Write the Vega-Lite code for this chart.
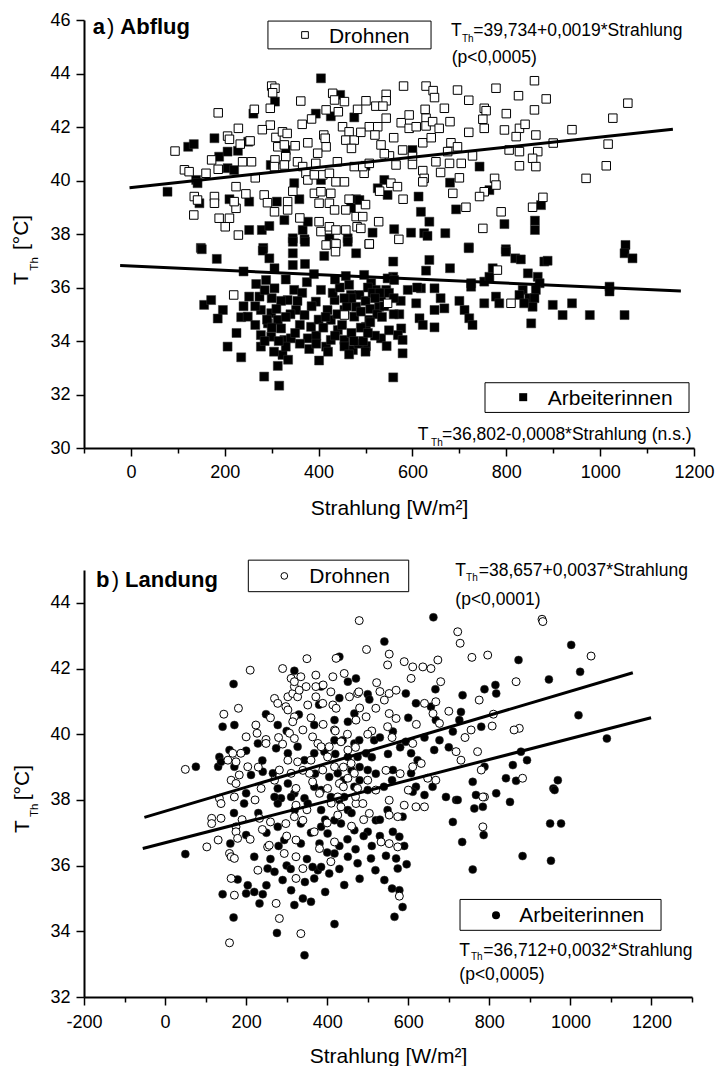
{
"$schema":"https://vega.github.io/schema/vega-lite/v6.json",
"background":"white",
"padding":{"left":11,"top":11,"right":0,"bottom":0},
"bounds":"flush",
"spacing":122,
"config":{"view":{"stroke":null},
"axis":{"grid":false,"domainColor":"black","tickColor":"black","labelColor":"black","titleColor":"black","labelFont":"Liberation Sans","titleFont":"Liberation Sans","labelFontSize":18,"titleFontSize":21,"titleFontWeight":"normal","domainWidth":2,"tickWidth":1.5,"labelFlush":false,"labelOverlap":false},
"text":{"font":"Liberation Sans","color":"black"}},
"datasets":{
"a_workers":[{"rad":405,"temp":43.82},{"rad":446,"temp":43.2},{"rad":307,"temp":42.95},{"rad":261,"temp":42.5},{"rad":394,"temp":42.5},{"rad":426,"temp":42.4},{"rad":476,"temp":42.36},{"rad":122,"temp":41.26},{"rad":134,"temp":41.36},{"rad":178,"temp":41.58},{"rad":188,"temp":40.89},{"rad":206,"temp":41.08},{"rad":228,"temp":41.11},{"rad":250,"temp":41.45},{"rad":330,"temp":41.14},{"rad":206,"temp":40.46},{"rad":220,"temp":40.39},{"rad":298,"temp":40.58},{"rad":139,"temp":40.02},{"rad":142,"temp":39.9},{"rad":78,"temp":39.58},{"rad":348,"temp":39.9},{"rad":405,"temp":40.02},{"rad":146,"temp":39.15},{"rad":210,"temp":39.3},{"rad":252,"temp":39.21},{"rad":311,"temp":39.21},{"rad":359,"temp":39.3},{"rad":327,"temp":38.52},{"rad":252,"temp":38.15},{"rad":279,"temp":38.15},{"rad":295,"temp":38.3},{"rad":345,"temp":37.84},{"rad":370,"temp":37.8},{"rad":366,"temp":38.15},{"rad":377,"temp":38.46},{"rad":423,"temp":37.84},{"rad":462,"temp":37.84},{"rad":480,"temp":39.3},{"rad":469,"temp":38.97},{"rad":149,"temp":37.48},{"rad":282,"temp":37.48},
{"rad":600,"temp":41.14},{"rad":500,"temp":40.55},{"rad":743,"temp":40.52},{"rad":540,"temp":40.02},{"rad":526,"temp":39.71},{"rad":547,"temp":39.46},{"rad":613,"temp":39.4},{"rad":680,"temp":39.92},{"rad":693,"temp":38.92},{"rad":618,"temp":38.83},{"rad":636,"temp":38.46},{"rad":796,"temp":38.37},{"rad":764,"temp":39.64},{"rad":874,"temp":39.08},{"rad":861,"temp":38.5},{"rad":861,"temp":38.15},{"rad":487,"temp":39.27},{"rad":515,"temp":38.05},{"rad":561,"temp":38.18},{"rad":597,"temp":38.05},{"rad":625,"temp":38.03},{"rad":632,"temp":37.93},{"rad":670,"temp":38.03},{"rad":720,"temp":37.5},{"rad":799,"temp":37.43},{"rad":1054,"temp":37.59},
{"rad":151,"temp":37.43},{"rad":183,"temp":37.07},{"rad":281,"temp":37.38},{"rad":295,"temp":37.09},{"rad":306,"temp":36.72},{"rad":345,"temp":37.71},{"rad":371,"temp":37.71},{"rad":345,"temp":37.28},{"rad":345,"temp":36.84},{"rad":371,"temp":36.88},{"rad":412,"temp":37.18},{"rad":462,"temp":37.71},{"rad":480,"temp":37.28},{"rad":458,"temp":36.43},{"rad":267,"temp":36.13},{"rad":288,"temp":36.28},{"rad":274,"temp":35.66},{"rad":252,"temp":35.66},{"rad":156,"temp":35.35},{"rad":171,"temp":35.53},{"rad":196,"temp":35.16},{"rad":185,"temp":34.84},{"rad":235,"temp":34.89},{"rad":249,"temp":34.91},{"rad":206,"temp":33.79},{"rad":235,"temp":33.39},{"rad":284,"temp":32.67},{"rad":313,"temp":33.07},{"rad":316,"temp":32.33},{"rad":323,"temp":33.48},{"rad":401,"temp":33.27},{"rad":306,"temp":35.97},{"rad":348,"temp":35.91},{"rad":334,"temp":35.53},{"rad":352,"temp":35.16},{"rad":277,"temp":35.16},{"rad":299,"temp":35.04},{"rad":313,"temp":34.79},{"rad":292,"temp":34.66},{"rad":320,"temp":34.47},{"rad":277,"temp":34.22},{"rad":299,"temp":34.16},{"rad":327,"temp":34.04},{"rad":341,"temp":34.1},{"rad":277,"temp":33.79},{"rad":330,"temp":33.79},{"rad":370,"temp":34.97},{"rad":384,"temp":34.53},{"rad":377,"temp":34.1},{"rad":394,"temp":35.47},{"rad":405,"temp":35.91},{"rad":419,"temp":35.16},{"rad":434,"temp":35.53},{"rad":426,"temp":34.79},{"rad":441,"temp":34.41},{"rad":455,"temp":35.16},{"rad":469,"temp":35.72},{"rad":476,"temp":34.91},{"rad":416,"temp":33.79},{"rad":426,"temp":34.04},{"rad":455,"temp":34.04},{"rad":473,"temp":33.66},
{"rad":559,"temp":36.97},{"rad":559,"temp":36.4},{"rad":636,"temp":37.03},{"rad":629,"temp":36.63},{"rad":680,"temp":36.72},{"rad":720,"temp":37.47},{"rad":799,"temp":37.34},{"rad":819,"temp":37.09},{"rad":831,"temp":37.05},{"rad":881,"temp":36.97},{"rad":888,"temp":37.0},{"rad":1052,"temp":37.28},{"rad":1069,"temp":37.09},{"rad":497,"temp":36.47},{"rad":512,"temp":36.16},{"rad":522,"temp":35.91},{"rad":533,"temp":35.66},{"rad":547,"temp":36.34},{"rad":561,"temp":36.28},{"rad":544,"temp":35.91},{"rad":529,"temp":35.28},{"rad":487,"temp":35.72},{"rad":480,"temp":35.28},{"rad":508,"temp":34.79},{"rad":501,"temp":34.53},{"rad":590,"temp":35.91},{"rad":618,"temp":35.97},{"rad":647,"temp":35.97},{"rad":608,"temp":35.41},{"rad":647,"temp":35.16},{"rad":668,"temp":35.22},{"rad":615,"temp":34.85},{"rad":622,"temp":34.6},{"rad":647,"temp":34.51},{"rad":572,"temp":35.0},{"rad":576,"temp":34.47},{"rad":569,"temp":34.22},{"rad":579,"temp":34.04},{"rad":579,"temp":33.54},{"rad":533,"temp":34.1},{"rad":545,"temp":33.81},{"rad":501,"temp":33.81},{"rad":559,"temp":32.64},{"rad":725,"temp":36.16},{"rad":725,"temp":36.03},{"rad":753,"temp":36.22},{"rad":764,"temp":36.4},{"rad":771,"temp":36.72},{"rad":711,"temp":35.16},{"rad":721,"temp":34.85},{"rad":728,"temp":34.6},{"rad":753,"temp":35.41},{"rad":778,"temp":35.66},{"rad":785,"temp":35.41},{"rad":846,"temp":36.53},{"rad":867,"temp":36.4},{"rad":871,"temp":36.16},{"rad":863,"temp":35.91},{"rad":835,"temp":35.91},{"rad":828,"temp":35.72},{"rad":849,"temp":35.6},{"rad":860,"temp":35.6},{"rad":856,"temp":35.28},{"rad":838,"temp":35.41},{"rad":853,"temp":34.66},{"rad":899,"temp":35.35},{"rad":920,"temp":34.97},{"rad":940,"temp":35.41},{"rad":978,"temp":34.97},{"rad":1020,"temp":36.03},{"rad":1020,"temp":35.85},{"rad":1052,"temp":34.97},
{"rad":440,"temp":35.0},{"rad":450,"temp":34.6},{"rad":460,"temp":35.3},{"rad":470,"temp":34.3},{"rad":490,"temp":34.5},{"rad":500,"temp":35.5},{"rad":510,"temp":35.2},{"rad":520,"temp":34.2},{"rad":430,"temp":35.8},{"rad":445,"temp":36.0},{"rad":465,"temp":36.1},{"rad":485,"temp":33.9},{"rad":495,"temp":34.0},{"rad":455,"temp":33.8},{"rad":435,"temp":34.2},{"rad":505,"temp":36.0},{"rad":515,"temp":35.8},{"rad":525,"temp":35.0},{"rad":540,"temp":35.3},{"rad":550,"temp":35.8},{"rad":560,"temp":35.0},{"rad":465,"temp":33.5},{"rad":400,"temp":34.8},{"rad":395,"temp":34.2},{"rad":385,"temp":35.3},{"rad":360,"temp":34.6},{"rad":350,"temp":34.3},{"rad":340,"temp":35.0},{"rad":365,"temp":35.8},{"rad":320,"temp":35.5},{"rad":310,"temp":35.2},{"rad":300,"temp":35.6},{"rad":290,"temp":34.8},{"rad":330,"temp":34.9},{"rad":315,"temp":34.0},{"rad":300,"temp":34.5},{"rad":360,"temp":33.9},{"rad":410,"temp":34.5},{"rad":420,"temp":33.6},{"rad":380,"temp":33.7},{"rad":470,"temp":35.6},{"rad":530,"temp":35.8},{"rad":575,"temp":35.5},{"rad":500,"temp":33.6},{"rad":510,"temp":34.7},
{"rad":265,"temp":35.3},{"rad":285,"temp":35.9},{"rad":305,"temp":33.6},{"rad":335,"temp":33.3},{"rad":355,"temp":35.5},{"rad":375,"temp":36.2},{"rad":395,"temp":33.9},{"rad":415,"temp":34.9},{"rad":435,"temp":36.3},{"rad":455,"temp":35.6},{"rad":475,"temp":34.0},{"rad":490,"temp":35.1},{"rad":505,"temp":34.3},{"rad":520,"temp":35.6},{"rad":535,"temp":34.9},{"rad":550,"temp":34.4},{"rad":285,"temp":34.0},{"rad":265,"temp":34.6},{"rad":240,"temp":35.3},{"rad":225,"temp":34.3},{"rad":390,"temp":36.5},{"rad":560,"temp":35.6},{"rad":610,"temp":36.0},{"rad":660,"temp":35.6},{"rad":700,"temp":35.5},{"rad":240,"temp":36.6},{"rad":330,"temp":36.3}],
"a_drones":[{"rad":94,"temp":41.1},{"rad":114,"temp":40.4},{"rad":124,"temp":40.33},{"rad":160,"temp":40.27},{"rad":186,"temp":42.53},{"rad":229,"temp":41.95},{"rad":206,"temp":41.66},{"rad":210,"temp":41.54},{"rad":233,"temp":41.36},{"rad":254,"temp":41.48},{"rad":172,"temp":40.77},{"rad":186,"temp":40.42},{"rad":238,"temp":40.7},{"rad":257,"temp":40.7},{"rad":263,"temp":42.66},{"rad":300,"temp":43.53},{"rad":307,"temp":43.45},{"rad":302,"temp":43.28},{"rad":297,"temp":42.7},{"rad":297,"temp":42.07},{"rad":309,"temp":41.61},{"rad":323,"temp":41.82},{"rad":333,"temp":41.76},{"rad":313,"temp":41.26},{"rad":327,"temp":41.33},{"rad":307,"temp":40.77},{"rad":306,"temp":40.52},{"rad":330,"temp":40.89},{"rad":327,"temp":40.58},{"rad":362,"temp":42.97},{"rad":430,"temp":43.26},{"rad":434,"temp":43.01},{"rad":455,"temp":42.95},{"rad":442,"temp":42.57},{"rad":416,"temp":42.64},{"rad":377,"temp":41.41},{"rad":411,"temp":41.7},{"rad":414,"temp":41.58},{"rad":416,"temp":41.26},{"rad":451,"temp":42.01},{"rad":465,"temp":41.82},{"rad":458,"temp":41.51},{"rad":476,"temp":41.51},{"rad":398,"temp":41.02},{"rad":394,"temp":40.64},{"rad":355,"temp":40.7},{"rad":366,"temp":40.52},{"rad":373,"temp":40.27},{"rad":377,"temp":40.02},{"rad":391,"temp":40.21},{"rad":409,"temp":40.21},{"rad":423,"temp":40.27},{"rad":437,"temp":39.95},{"rad":455,"temp":39.95},{"rad":476,"temp":40.52},{"rad":135,"temp":39.4},{"rad":142,"temp":39.27},{"rad":178,"temp":39.4},{"rad":178,"temp":39.15},{"rad":134,"temp":38.71},{"rad":188,"temp":38.59},{"rad":210,"temp":38.59},{"rad":201,"temp":38.27},{"rad":224,"temp":38.96},{"rad":220,"temp":39.21},{"rad":224,"temp":39.77},{"rad":229,"temp":37.96},{"rad":284,"temp":39.46},{"rad":291,"temp":39.17},{"rad":306,"temp":38.83},{"rad":334,"temp":39.21},{"rad":334,"temp":38.9},{"rad":391,"temp":39.52},{"rad":405,"temp":39.58},{"rad":426,"temp":39.52},{"rad":401,"temp":39.15},{"rad":423,"temp":39.15},{"rad":434,"temp":38.9},{"rad":458,"temp":38.9},{"rad":480,"temp":38.65},{"rad":401,"temp":38.46},{"rad":405,"temp":38.09},{"rad":423,"temp":38.27},{"rad":437,"temp":38.15},{"rad":458,"temp":38.15},{"rad":416,"temp":37.59},{"rad":434,"temp":37.65},{"rad":482,"temp":38.27},
{"rad":860,"temp":43.73},{"rad":581,"temp":43.53},{"rad":629,"temp":43.53},{"rad":644,"temp":43.36},{"rad":647,"temp":43.1},{"rad":696,"temp":43.38},{"rad":778,"temp":43.45},{"rad":826,"temp":43.17},{"rad":885,"temp":43.05},{"rad":1059,"temp":42.89},{"rad":1027,"temp":42.33},{"rad":501,"temp":42.98},{"rad":544,"temp":43.22},{"rad":544,"temp":42.98},{"rad":522,"temp":42.78},{"rad":537,"temp":42.78},{"rad":483,"temp":42.66},{"rad":627,"temp":42.66},{"rad":668,"temp":42.7},{"rad":753,"temp":42.7},{"rad":757,"temp":42.61},{"rad":860,"temp":42.64},{"rad":508,"temp":42.01},{"rad":526,"temp":42.01},{"rad":544,"temp":42.33},{"rad":576,"temp":42.16},{"rad":593,"temp":42.45},{"rad":593,"temp":41.95},{"rad":608,"temp":42.01},{"rad":629,"temp":42.33},{"rad":629,"temp":42.04},{"rad":643,"temp":42.2},{"rad":657,"temp":41.95},{"rad":750,"temp":42.29},{"rad":753,"temp":41.95},{"rad":796,"temp":41.89},{"rad":828,"temp":41.95},{"rad":821,"temp":41.64},{"rad":863,"temp":41.7},{"rad":1017,"temp":41.36},{"rad":1013,"temp":40.55},{"rad":970,"temp":40.08},{"rad":533,"temp":41.33},{"rad":551,"temp":40.92},{"rad":565,"temp":40.58},{"rad":579,"temp":41.14},{"rad":622,"temp":41.41},{"rad":682,"temp":41.41},{"rad":675,"temp":41.08},{"rad":696,"temp":41.26},{"rad":728,"temp":40.92},{"rad":679,"temp":40.64},{"rad":704,"temp":40.64},{"rad":650,"temp":40.7},{"rad":806,"temp":41.14},{"rad":828,"temp":41.08},{"rad":867,"temp":41.08},{"rad":856,"temp":40.83},{"rad":863,"temp":40.52},{"rad":828,"temp":40.55},{"rad":497,"temp":40.27},{"rad":494,"temp":40.52},{"rad":622,"temp":40.37},{"rad":625,"temp":40.08},{"rad":622,"temp":39.95},{"rad":554,"temp":39.9},{"rad":568,"temp":39.77},{"rad":508,"temp":40.64},{"rad":775,"temp":40.08},{"rad":778,"temp":39.83},{"rad":753,"temp":39.58},{"rad":743,"temp":39.4},{"rad":686,"temp":39.52},{"rad":714,"temp":39.0},{"rad":789,"temp":38.83},{"rad":856,"temp":39.0},{"rad":878,"temp":39.37},{"rad":494,"temp":38.65},{"rad":490,"temp":38.21},{"rad":528,"temp":38.46},{"rad":508,"temp":37.62},{"rad":571,"temp":37.8},{"rad":750,"temp":38.21},
{"rad":219,"temp":35.72},{"rad":437,"temp":37.63},{"rad":436,"temp":37.34},{"rad":455,"temp":34.97},{"rad":508,"temp":37.63},{"rad":781,"temp":36.65},{"rad":547,"temp":35.41},{"rad":810,"temp":35.41},
{"rad":350,"temp":41.3},{"rad":365,"temp":42.1},{"rad":385,"temp":42.3},{"rad":440,"temp":40.7},{"rad":470,"temp":41.2},{"rad":490,"temp":41.8},{"rad":520,"temp":41.7},{"rad":540,"temp":41.0},{"rad":560,"temp":41.6},{"rad":600,"temp":40.9},{"rad":640,"temp":41.6},{"rad":660,"temp":40.3},{"rad":700,"temp":40.1},{"rad":720,"temp":41.8},{"rad":265,"temp":40.1},{"rad":280,"temp":41.9},{"rad":245,"temp":39.5},{"rad":345,"temp":39.6},{"rad":360,"temp":38.6},{"rad":465,"temp":39.3},{"rad":500,"temp":39.1},{"rad":530,"temp":39.6},{"rad":580,"temp":39.3},{"rad":600,"temp":40.6},{"rad":680,"temp":42.2},{"rad":720,"temp":43.0},{"rad":800,"temp":42.5},{"rad":840,"temp":42.1},{"rad":900,"temp":41.4},{"rad":940,"temp":41.9}],
"b_workers":[{"rad":430,"temp":42.36},{"rad":76,"temp":39.01},{"rad":131,"temp":39.01},{"rad":169,"temp":41.53},{"rad":142,"temp":40.23},{"rad":171,"temp":40.28},{"rad":249,"temp":40.61},{"rad":319,"temp":41.93},{"rad":385,"temp":41.45},{"rad":278,"temp":40.28},{"rad":368,"temp":40.28},{"rad":451,"temp":41.6},{"rad":471,"temp":41.7},{"rad":418,"temp":40.43},{"rad":451,"temp":40.38},{"rad":467,"temp":40.63},{"rad":159,"temp":39.52},{"rad":134,"temp":39.31},{"rad":138,"temp":39.16},{"rad":171,"temp":39.01},{"rad":212,"temp":38.76},{"rad":229,"temp":39.72},{"rad":241,"temp":38.86},{"rad":274,"temp":39.57},{"rad":266,"temp":38.81},{"rad":303,"temp":39.42},{"rad":327,"temp":39.62},{"rad":344,"temp":39.21},{"rad":368,"temp":39.42},{"rad":393,"temp":39.47},{"rad":418,"temp":39.82},{"rad":438,"temp":39.82},{"rad":467,"temp":39.72},{"rad":451,"temp":39.31},{"rad":475,"temp":39.31},{"rad":405,"temp":38.7},{"rad":426,"temp":38.81},{"rad":385,"temp":38.3},{"rad":368,"temp":38.4},{"rad":303,"temp":38.5},{"rad":278,"temp":38.35},{"rad":319,"temp":38.2},{"rad":344,"temp":38.05},{"rad":286,"temp":38.05},{"rad":467,"temp":38.4},{"rad":442,"temp":38.09},
{"rad":662,"temp":43.56},{"rad":541,"temp":42.82},{"rad":1002,"temp":42.72},{"rad":872,"temp":42.26},{"rad":1024,"temp":41.9},{"rad":947,"temp":41.67},{"rad":788,"temp":41.37},{"rad":815,"temp":41.5},{"rad":817,"temp":41.24},{"rad":667,"temp":41.37},{"rad":594,"temp":41.24},{"rad":500,"temp":41.22},{"rad":504,"temp":41.06},{"rad":734,"temp":41.19},{"rad":619,"temp":40.94},{"rad":656,"temp":40.84},{"rad":668,"temp":40.43},{"rad":730,"temp":40.68},{"rad":726,"temp":40.43},{"rad":710,"temp":40.08},{"rad":780,"temp":40.23},{"rad":1020,"temp":40.58},{"rad":1090,"temp":39.87},{"rad":878,"temp":39.47},{"rad":893,"temp":39.21},{"rad":969,"temp":38.6},{"rad":958,"temp":38.35},{"rad":841,"temp":38.66},{"rad":866,"temp":38.58},{"rad":788,"temp":39.01},{"rad":759,"temp":38.55},{"rad":858,"temp":39.06},{"rad":516,"temp":39.82},{"rad":562,"temp":40.08},{"rad":594,"temp":39.77},{"rad":607,"temp":39.42},{"rad":623,"temp":39.21},{"rad":664,"temp":39.52},{"rad":677,"temp":39.82},{"rad":496,"temp":39.42},{"rad":479,"temp":39.82},{"rad":500,"temp":38.91},{"rad":562,"temp":38.91},{"rad":607,"temp":38.81},{"rad":619,"temp":38.4},{"rad":660,"temp":38.4},{"rad":693,"temp":38.09},{"rad":718,"temp":38.0},{"rad":767,"temp":38.15},{"rad":817,"temp":38.2},
{"rad":50,"temp":36.35},{"rad":161,"temp":36.67},{"rad":169,"temp":34.42},{"rad":142,"temp":35.13},{"rad":179,"temp":35.58},{"rad":204,"temp":35.4},{"rad":200,"temp":35.15},{"rad":220,"temp":35.2},{"rad":241,"temp":35.13},{"rad":233,"temp":34.85},{"rad":220,"temp":36.27},{"rad":276,"temp":33.95},{"rad":344,"temp":33.27},{"rad":418,"temp":34.22},{"rad":253,"temp":35.91},{"rad":270,"temp":35.81},{"rad":290,"temp":35.56},{"rad":311,"temp":35.25},{"rad":319,"temp":34.8},{"rad":340,"temp":35.0},{"rad":360,"temp":34.9},{"rad":368,"temp":35.61},{"rad":377,"temp":35.86},{"rad":364,"temp":35.96},{"rad":385,"temp":35.96},{"rad":405,"temp":35.76},{"rad":451,"temp":36.27},{"rad":442,"temp":35.41},{"rad":475,"temp":36.07},{"rad":418,"temp":36.37},{"rad":381,"temp":36.67},{"rad":401,"temp":36.98},{"rad":434,"temp":37.28},{"rad":467,"temp":37.08},{"rad":335,"temp":36.67},{"rad":294,"temp":36.78},{"rad":278,"temp":37.18},{"rad":278,"temp":37.89},{"rad":311,"temp":38.09},{"rad":270,"temp":38.09},{"rad":195,"temp":37.89},{"rad":200,"temp":36.93},{"rad":352,"temp":37.89},{"rad":385,"temp":37.69},{"rad":409,"temp":38.09},{"rad":335,"temp":37.28},{"rad":385,"temp":37.18},{"rad":451,"temp":37.69},{"rad":418,"temp":37.38},
{"rad":710,"temp":37.33},{"rad":733,"temp":36.72},{"rad":759,"temp":35.88},{"rad":722,"temp":38.0},{"rad":763,"temp":37.74},{"rad":784,"temp":37.79},{"rad":851,"temp":37.94},{"rad":786,"temp":36.93},{"rad":882,"temp":36.29},{"rad":952,"temp":36.15},{"rad":950,"temp":37.28},{"rad":977,"temp":37.28},{"rad":566,"temp":34.44},{"rad":586,"temp":34.74},{"rad":578,"temp":35.25},{"rad":596,"temp":36.04},{"rad":574,"temp":35.91},{"rad":570,"temp":36.22},{"rad":541,"temp":35.56},{"rad":519,"temp":35.86},{"rad":508,"temp":36.22},{"rad":578,"temp":36.88},{"rad":562,"temp":37.03},{"rad":586,"temp":37.49},{"rad":640,"temp":38.15},{"rad":611,"temp":38.25},{"rad":549,"temp":37.69},{"rad":520,"temp":37.38},{"rad":500,"temp":37.03},{"rad":961,"temp":38.3},
{"rad":430,"temp":38.0},{"rad":460,"temp":37.6},{"rad":480,"temp":38.6},{"rad":500,"temp":38.3},{"rad":520,"temp":38.8},{"rad":540,"temp":38.4},{"rad":560,"temp":38.6},{"rad":450,"temp":36.8},{"rad":470,"temp":36.5},{"rad":490,"temp":36.9},{"rad":510,"temp":36.6},{"rad":530,"temp":37.4},{"rad":545,"temp":36.3},{"rad":430,"temp":36.6},{"rad":400,"temp":36.4},{"rad":360,"temp":37.0},
{"rad":200,"temp":38.2},{"rad":230,"temp":37.6},{"rad":250,"temp":37.0},{"rad":260,"temp":36.2},{"rad":300,"temp":36.0},{"rad":320,"temp":37.7},{"rad":350,"temp":36.2},{"rad":370,"temp":38.8},{"rad":395,"temp":37.4},{"rad":420,"temp":39.4},{"rad":440,"temp":38.6},{"rad":460,"temp":38.9},{"rad":480,"temp":39.0},{"rad":510,"temp":39.3},{"rad":530,"temp":39.9},{"rad":550,"temp":39.4},{"rad":580,"temp":39.6},{"rad":600,"temp":40.5},{"rad":640,"temp":39.9},{"rad":700,"temp":39.6},{"rad":240,"temp":39.2},{"rad":300,"temp":40.1},{"rad":330,"temp":40.6},{"rad":380,"temp":40.9},{"rad":430,"temp":41.1},{"rad":280,"temp":36.6},{"rad":250,"temp":35.4},{"rad":310,"temp":35.9},{"rad":345,"temp":35.5},{"rad":395,"temp":35.2},{"rad":430,"temp":35.9},{"rad":480,"temp":35.6},{"rad":530,"temp":36.9},{"rad":560,"temp":35.3},{"rad":590,"temp":36.6},{"rad":170,"temp":37.6},{"rad":200,"temp":39.5}],
"b_drones":[{"rad":210,"temp":41.95},{"rad":479,"temp":43.46},{"rad":422,"temp":42.31},{"rad":145,"temp":40.61},{"rad":181,"temp":40.79},{"rad":50,"temp":38.93},{"rad":200,"temp":39.92},{"rad":224,"temp":40.28},{"rad":227,"temp":40.03},{"rad":249,"temp":39.84},{"rad":249,"temp":39.72},{"rad":167,"temp":39.42},{"rad":187,"temp":39.42},{"rad":175,"temp":39.16},{"rad":155,"temp":39.21},{"rad":204,"temp":39.01},{"rad":183,"temp":38.76},{"rad":163,"temp":38.6},{"rad":175,"temp":38.5},{"rad":237,"temp":38.35},{"rad":270,"temp":41.09},{"rad":278,"temp":40.94},{"rad":298,"temp":40.84},{"rad":303,"temp":41.14},{"rad":315,"temp":41.24},{"rad":327,"temp":41.14},{"rad":319,"temp":41.45},{"rad":335,"temp":41.75},{"rad":311,"temp":41.7},{"rad":319,"temp":41.6},{"rad":331,"temp":41.34},{"rad":348,"temp":41.45},{"rad":352,"temp":40.89},{"rad":372,"temp":41.8},{"rad":372,"temp":41.45},{"rad":372,"temp":41.14},{"rad":389,"temp":40.94},{"rad":409,"temp":41.29},{"rad":414,"temp":41.75},{"rad":414,"temp":40.89},{"rad":422,"temp":40.79},{"rad":442,"temp":41.85},{"rad":455,"temp":41.14},{"rad":475,"temp":41.24},{"rad":471,"temp":40.43},{"rad":303,"temp":40.74},{"rad":319,"temp":40.53},{"rad":315,"temp":40.38},{"rad":307,"temp":40.03},{"rad":319,"temp":39.87},{"rad":340,"temp":40.13},{"rad":364,"temp":39.92},{"rad":377,"temp":39.72},{"rad":385,"temp":39.62},{"rad":405,"temp":39.62},{"rad":401,"temp":39.31},{"rad":418,"temp":40.13},{"rad":434,"temp":39.77},{"rad":451,"temp":39.52},{"rad":459,"temp":39.11},{"rad":467,"temp":38.81},{"rad":418,"temp":39.01},{"rad":389,"temp":38.91},{"rad":360,"temp":39.21},{"rad":327,"temp":39.16},{"rad":303,"temp":39.21},{"rad":282,"temp":38.91},{"rad":311,"temp":38.81},{"rad":323,"temp":38.35},{"rad":356,"temp":38.81},{"rad":364,"temp":38.55},{"rad":401,"temp":38.35},{"rad":430,"temp":38.5},{"rad":451,"temp":38.66},{"rad":475,"temp":38.35},{"rad":426,"temp":38.09},
{"rad":930,"temp":43.5},{"rad":932,"temp":43.43},{"rad":722,"temp":43.12},{"rad":728,"temp":42.77},{"rad":497,"temp":42.58},{"rad":553,"temp":42.44},{"rad":549,"temp":42.11},{"rad":590,"temp":42.21},{"rad":611,"temp":42.05},{"rad":636,"temp":42.05},{"rad":656,"temp":42.0},{"rad":673,"temp":42.26},{"rad":607,"temp":41.7},{"rad":757,"temp":42.34},{"rad":796,"temp":42.41},{"rad":1051,"temp":42.38},{"rad":522,"temp":41.57},{"rad":478,"temp":41.29},{"rad":541,"temp":41.04},{"rad":553,"temp":41.24},{"rad":570,"temp":41.34},{"rad":520,"temp":40.79},{"rad":553,"temp":40.63},{"rad":496,"temp":40.53},{"rad":640,"temp":40.94},{"rad":668,"temp":40.99},{"rad":661,"temp":40.63},{"rad":677,"temp":40.33},{"rad":775,"temp":41.04},{"rad":866,"temp":41.6},{"rad":810,"temp":40.61},{"rad":807,"temp":40.25},{"rad":755,"temp":40.13},{"rad":874,"temp":40.18},{"rad":861,"temp":40.13},{"rad":549,"temp":40.23},{"rad":570,"temp":40.48},{"rad":611,"temp":39.72},{"rad":632,"temp":39.11},{"rad":611,"temp":39.01},{"rad":648,"temp":38.66},{"rad":668,"temp":38.6},{"rad":718,"temp":39.47},{"rad":730,"temp":39.21},{"rad":771,"temp":39.47},{"rad":780,"temp":38.91},{"rad":788,"temp":38.09},{"rad":882,"temp":38.66},
{"rad":103,"temp":36.57},{"rad":131,"temp":36.78},{"rad":115,"temp":37.44},{"rad":115,"temp":37.28},{"rad":138,"temp":37.44},{"rad":134,"temp":38.05},{"rad":138,"temp":37.89},{"rad":171,"temp":38.09},{"rad":175,"temp":37.18},{"rad":175,"temp":37.03},{"rad":179,"temp":36.83},{"rad":159,"temp":36.37},{"rad":163,"temp":36.27},{"rad":171,"temp":36.22},{"rad":163,"temp":35.61},{"rad":171,"temp":35.1},{"rad":159,"temp":33.65},{"rad":222,"temp":38.0},{"rad":233,"temp":37.44},{"rad":253,"temp":36.57},{"rad":229,"temp":35.86},{"rad":260,"temp":37.33},{"rad":257,"temp":36.62},{"rad":274,"temp":34.85},{"rad":282,"temp":34.39},{"rad":335,"temp":33.93},{"rad":298,"temp":37.28},{"rad":319,"temp":37.49},{"rad":323,"temp":37.84},{"rad":340,"temp":37.38},{"rad":323,"temp":36.78},{"rad":323,"temp":36.27},{"rad":323,"temp":35.61},{"rad":340,"temp":35.91},{"rad":294,"temp":36.37},{"rad":368,"temp":37.03},{"rad":381,"temp":36.52},{"rad":409,"temp":36.12},{"rad":418,"temp":36.72},{"rad":426,"temp":37.54},{"rad":434,"temp":37.79},{"rad":471,"temp":37.89},{"rad":381,"temp":38.2},
{"rad":784,"temp":38.09},{"rad":784,"temp":37.18},{"rad":578,"temp":35.07},{"rad":574,"temp":36.57},{"rad":553,"temp":36.67},{"rad":533,"temp":36.72},{"rad":553,"temp":37.54},{"rad":574,"temp":37.49},{"rad":590,"temp":37.84},{"rad":619,"temp":37.79},{"rad":640,"temp":37.79},{"rad":488,"temp":37.89},{"rad":504,"temp":37.59},{"rad":553,"temp":37.99},
{"rad":440,"temp":38.4},{"rad":470,"temp":38.1},{"rad":500,"temp":38.6},{"rad":520,"temp":38.3},{"rad":545,"temp":38.9},{"rad":460,"temp":37.2},{"rad":410,"temp":37.9},{"rad":490,"temp":37.4},
{"rad":190,"temp":37.4},{"rad":210,"temp":36.8},{"rad":240,"temp":37.1},{"rad":270,"temp":38.6},{"rad":290,"temp":39.7},{"rad":340,"temp":38.9},{"rad":360,"temp":40.5},{"rad":390,"temp":40.3},{"rad":420,"temp":40.1},{"rad":450,"temp":40.0},{"rad":480,"temp":40.8},{"rad":510,"temp":40.1},{"rad":530,"temp":41.3},{"rad":560,"temp":39.9},{"rad":580,"temp":38.8},{"rad":600,"temp":38.3},{"rad":620,"temp":40.3},{"rad":680,"temp":41.6},{"rad":700,"temp":40.7},{"rad":740,"temp":39.9},{"rad":260,"temp":40.5},{"rad":280,"temp":39.9},{"rad":230,"temp":39.0},{"rad":290,"temp":42.0},{"rad":350,"temp":42.3},{"rad":390,"temp":41.5},{"rad":440,"temp":39.0},{"rad":470,"temp":39.6},{"rad":500,"temp":40.0},{"rad":350,"temp":37.7},{"rad":300,"temp":36.9},{"rad":400,"temp":37.3}]
},
"vconcat":[
{"width":610,"height":428,
"layer":[
{"data":{"name":"a_workers"},
"mark":{"type":"point","shape":"square","size":81,"filled":true,"fill":"black","stroke":"#333","strokeWidth":0.5,"opacity":1},
"encoding":{
"x":{"field":"rad","type":"quantitative","scale":{"domain":[-100,1200],"nice":false,"zero":false},
"axis":{"title":"Strahlung [W/m²]","values":[-100,0,100,200,300,400,500,600,700,800,900,1000,1100,1200],"labelExpr":"datum.value % 200 === 0 ? '' + datum.value : ''","tickSize":{"condition":{"test":"datum.value % 200 !== 0","value":5},"value":8},"labelPadding":7,"titlePadding":16}},
"y":{"field":"temp","type":"quantitative","scale":{"domain":[30,46],"nice":false,"zero":false},
"axis":{"title":null,"values":[30,31,32,33,34,35,36,37,38,39,40,41,42,43,44,45,46],"labelExpr":"datum.value % 2 === 0 ? '' + datum.value : ''","tickSize":{"condition":{"test":"datum.value % 2 !== 0","value":5},"value":8},"labelPadding":6}}}},
{"data":{"name":"a_drones"},
"mark":{"type":"point","shape":"square","size":72,"filled":true,"fill":"white","stroke":"black","strokeWidth":1,"opacity":1},
"encoding":{"x":{"field":"rad","type":"quantitative"},"y":{"field":"temp","type":"quantitative"}}},
{"data":{"values":[{"rad":-3,"temp":39.73,"rad2":1155,"temp2":41.92},{"rad":-23,"temp":36.82,"rad2":1172,"temp2":35.87}]},
"mark":{"type":"rule","color":"black","strokeWidth":3},
"encoding":{"x":{"field":"rad","type":"quantitative"},"y":{"field":"temp","type":"quantitative"},"x2":{"field":"rad2"},"y2":{"field":"temp2"}}},
{"data":{"values":[{"rad":292,"rad2":639.6,"temp":44.92,"temp2":45.96},{"rad":754.6,"rad2":1189.4,"temp":31.33,"temp2":32.44}]},
"mark":{"type":"rect","fill":"white","stroke":"black","strokeWidth":1},
"encoding":{"x":{"field":"rad","type":"quantitative"},"x2":{"field":"rad2"},"y":{"field":"temp","type":"quantitative"},"y2":{"field":"temp2"}}},
{"data":{"values":[{"rad":371,"temp":45.44}]},
"mark":{"type":"point","shape":"square","size":45,"filled":true,"fill":"white","stroke":"black","strokeWidth":1,"opacity":1},
"encoding":{"x":{"field":"rad","type":"quantitative"},"y":{"field":"temp","type":"quantitative"}}},
{"data":{"values":[{"rad":836,"temp":31.9}]},
"mark":{"type":"point","shape":"square","size":64,"filled":true,"fill":"black","opacity":1},
"encoding":{"x":{"field":"rad","type":"quantitative"},"y":{"field":"temp","type":"quantitative"}}},
{"data":{"values":[{"rad":422,"temp":45.15,"text":"Drohnen"},{"rad":888.3,"temp":31.61,"text":"Arbeiterinnen"}]},
"mark":{"type":"text","align":"left","baseline":"alphabetic","fontSize":21},
"encoding":{"x":{"field":"rad","type":"quantitative"},"y":{"field":"temp","type":"quantitative"},"text":{"field":"text"}}},
{"data":{"values":[{"rad":682.2,"temp":45.4,"text":"T"},{"rad":729.7,"temp":45.4,"text":"=39,734+0,0019*Strahlung"},{"rad":683.6,"temp":44.38,"text":"(p<0,0005)"},{"rad":611.2,"temp":30.3,"text":"T"},{"rad":663,"temp":30.3,"text":"=36,802-0,0008*Strahlung (n.s.)"}]},
"mark":{"type":"text","align":"left","baseline":"alphabetic","fontSize":17.5},
"encoding":{"x":{"field":"rad","type":"quantitative"},"y":{"field":"temp","type":"quantitative"},"text":{"field":"text"}}},
{"data":{"values":[{"rad":705.6,"temp":45.19,"text":"Th"},{"rad":639.6,"temp":30.07,"text":"Th"}]},
"mark":{"type":"text","align":"left","baseline":"alphabetic","fontSize":10},
"encoding":{"x":{"field":"rad","type":"quantitative"},"y":{"field":"temp","type":"quantitative"},"text":{"field":"text"}}},
{"data":{"values":[{"rad":-81.5,"temp":45.47,"text":"a"},{"rad":-22.6,"temp":45.47,"text":"Abflug"}]},
"mark":{"type":"text","align":"left","baseline":"alphabetic","fontSize":22,"fontWeight":"bold"},
"encoding":{"x":{"field":"rad","type":"quantitative"},"y":{"field":"temp","type":"quantitative"},"text":{"field":"text"}}},
{"data":{"values":[{"rad":-51,"temp":45.47,"text":")"}]},
"mark":{"type":"text","align":"left","baseline":"alphabetic","fontSize":22},
"encoding":{"x":{"field":"rad","type":"quantitative"},"y":{"field":"temp","type":"quantitative"},"text":{"field":"text"}}},
{"data":{"values":[{"rad":-218.3,"temp":36.09,"text":"T"},{"rad":-218.3,"temp":37.4,"text":"[°C]"}]},
"mark":{"type":"text","align":"left","baseline":"alphabetic","fontSize":21,"angle":270},
"encoding":{"x":{"field":"rad","type":"quantitative"},"y":{"field":"temp","type":"quantitative"},"text":{"field":"text"}}},
{"data":{"values":[{"rad":-198.7,"temp":36.63,"text":"Th"}]},
"mark":{"type":"text","align":"left","baseline":"alphabetic","fontSize":11.5,"angle":270},
"encoding":{"x":{"field":"rad","type":"quantitative"},"y":{"field":"temp","type":"quantitative"},"text":{"field":"text"}}}
]},
{"width":608,"height":427,
"layer":[
{"data":{"name":"b_workers"},
"mark":{"type":"point","shape":"circle","size":64,"filled":true,"fill":"black","stroke":"#333","strokeWidth":0.5,"opacity":1},
"encoding":{
"x":{"field":"rad","type":"quantitative","scale":{"domain":[-200,1300],"nice":false,"zero":false},
"axis":{"title":"Strahlung [W/m²]","values":[-200,-100,0,100,200,300,400,500,600,700,800,900,1000,1100,1200,1300],"labelExpr":"datum.value % 200 === 0 ? '' + datum.value : ''","tickSize":{"condition":{"test":"datum.value % 200 !== 0","value":5},"value":8},"labelPadding":8,"titlePadding":14}},
"y":{"field":"temp","type":"quantitative","scale":{"domain":[32,45],"nice":false,"zero":false},
"axis":{"title":null,"values":[32,33,34,35,36,37,38,39,40,41,42,43,44,45],"labelExpr":"datum.value % 2 === 0 ? '' + datum.value : ''","tickSize":{"condition":{"test":"datum.value % 2 !== 0","value":5},"value":8},"labelPadding":6}}}},
{"data":{"name":"b_drones"},
"mark":{"type":"point","shape":"circle","size":64,"filled":true,"fill":"white","stroke":"black","strokeWidth":1,"opacity":1},
"encoding":{"x":{"field":"rad","type":"quantitative"},"y":{"field":"temp","type":"quantitative"}}},
{"data":{"values":[{"rad":-51,"temp":37.47,"rad2":1154,"temp2":41.87},{"rad":-55,"temp":36.52,"rad2":1199,"temp2":40.5}]},
"mark":{"type":"rule","color":"black","strokeWidth":3},
"encoding":{"x":{"field":"rad","type":"quantitative"},"y":{"field":"temp","type":"quantitative"},"x2":{"field":"rad2"},"y2":{"field":"temp2"}}},
{"data":{"values":[{"rad":205.4,"rad2":601.1,"temp":44.34,"temp2":45.3},{"rad":727.7,"rad2":1223.6,"temp":34.03,"temp2":34.97}]},
"mark":{"type":"rect","fill":"white","stroke":"black","strokeWidth":1},
"encoding":{"x":{"field":"rad","type":"quantitative"},"x2":{"field":"rad2"},"y":{"field":"temp","type":"quantitative"},"y2":{"field":"temp2"}}},
{"data":{"values":[{"rad":294.2,"temp":44.82}]},
"mark":{"type":"point","shape":"circle","size":45,"filled":true,"fill":"white","stroke":"black","strokeWidth":1,"opacity":1},
"encoding":{"x":{"field":"rad","type":"quantitative"},"y":{"field":"temp","type":"quantitative"}}},
{"data":{"values":[{"rad":816.5,"temp":34.49}]},
"mark":{"type":"point","shape":"circle","size":64,"filled":true,"fill":"black","opacity":1},
"encoding":{"x":{"field":"rad","type":"quantitative"},"y":{"field":"temp","type":"quantitative"}}},
{"data":{"values":[{"rad":356,"temp":44.59,"text":"Drohnen"},{"rad":874,"temp":34.29,"text":"Arbeiterinnen"}]},
"mark":{"type":"text","align":"left","baseline":"alphabetic","fontSize":21},
"encoding":{"x":{"field":"rad","type":"quantitative"},"y":{"field":"temp","type":"quantitative"},"text":{"field":"text"}}},
{"data":{"values":[{"rad":716.1,"temp":44.82,"text":"T"},{"rad":773.8,"temp":44.82,"text":"=38,657+0,0037*Strahlung"},{"rad":716.1,"temp":43.93,"text":"(p<0,0001)"},{"rad":726,"temp":33.25,"text":"T"},{"rad":785.2,"temp":33.25,"text":"=36,712+0,0032*Strahlung"},{"rad":726,"temp":32.51,"text":"(p<0,0005)"}]},
"mark":{"type":"text","align":"left","baseline":"alphabetic","fontSize":17.5},
"encoding":{"x":{"field":"rad","type":"quantitative"},"y":{"field":"temp","type":"quantitative"},"text":{"field":"text"}}},
{"data":{"values":[{"rad":742.5,"temp":44.67,"text":"Th"},{"rad":754.8,"temp":33.12,"text":"Th"}]},
"mark":{"type":"text","align":"left","baseline":"alphabetic","fontSize":10},
"encoding":{"x":{"field":"rad","type":"quantitative"},"y":{"field":"temp","type":"quantitative"},"text":{"field":"text"}}},
{"data":{"values":[{"rad":-170.4,"temp":44.49,"text":"b"},{"rad":-98.8,"temp":44.49,"text":"Landung"}]},
"mark":{"type":"text","align":"left","baseline":"alphabetic","fontSize":22,"fontWeight":"bold"},
"encoding":{"x":{"field":"rad","type":"quantitative"},"y":{"field":"temp","type":"quantitative"},"text":{"field":"text"}}},
{"data":{"values":[{"rad":-131.7,"temp":44.49,"text":")"}]},
"mark":{"type":"text","align":"left","baseline":"alphabetic","fontSize":22},
"encoding":{"x":{"field":"rad","type":"quantitative"},"y":{"field":"temp","type":"quantitative"},"text":{"field":"text"}}},
{"data":{"values":[{"rad":-336.9,"temp":36.99,"text":"T"},{"rad":-336.9,"temp":37.99,"text":"[°C]"}]},
"mark":{"type":"text","align":"left","baseline":"alphabetic","fontSize":21,"angle":270},
"encoding":{"x":{"field":"rad","type":"quantitative"},"y":{"field":"temp","type":"quantitative"},"text":{"field":"text"}}},
{"data":{"values":[{"rad":-314.2,"temp":37.48,"text":"Th"}]},
"mark":{"type":"text","align":"left","baseline":"alphabetic","fontSize":11.5,"angle":270},
"encoding":{"x":{"field":"rad","type":"quantitative"},"y":{"field":"temp","type":"quantitative"},"text":{"field":"text"}}}
]}
]
}
